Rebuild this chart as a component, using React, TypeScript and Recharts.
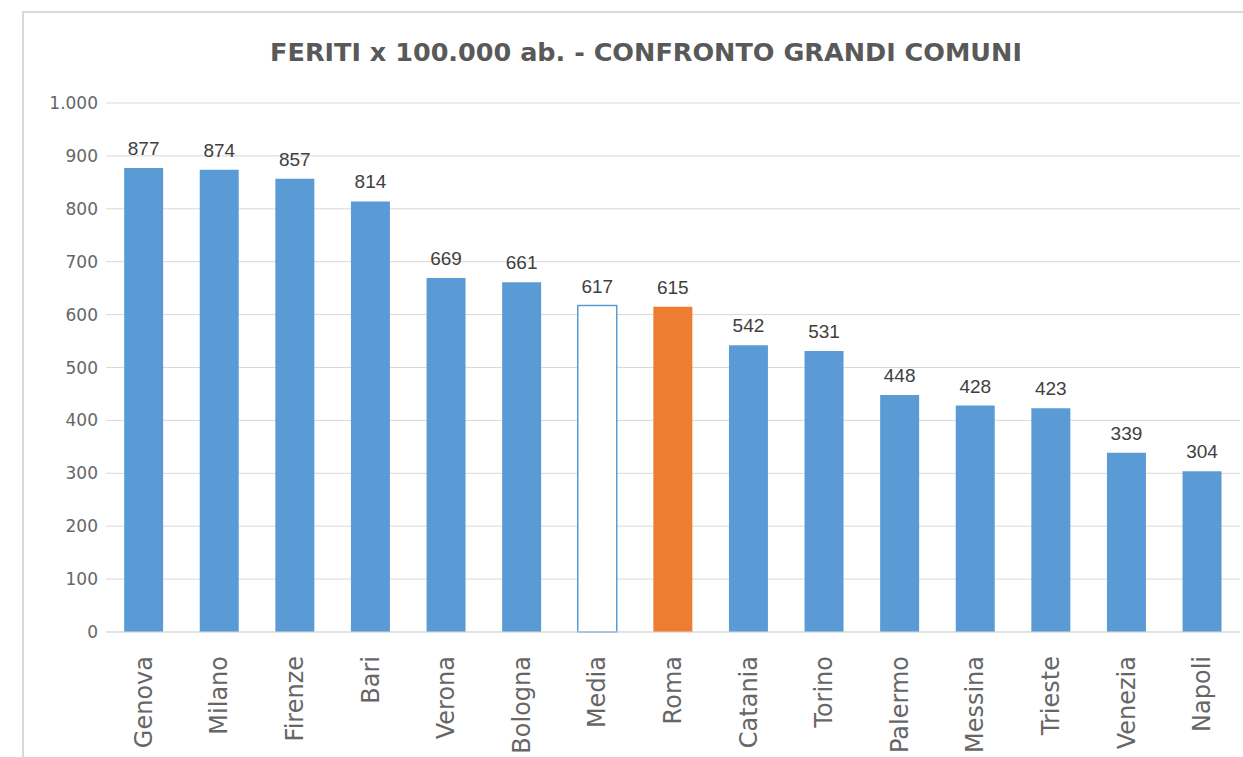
import React from 'react';
import { BarChart, Bar, XAxis, YAxis, CartesianGrid, Cell, LabelList } from 'recharts';

const CITIES = ['Genova', 'Milano', 'Firenze', 'Bari', 'Verona', 'Bologna', 'Media', 'Roma', 'Catania', 'Torino', 'Palermo', 'Messina', 'Trieste', 'Venezia', 'Napoli'];
const FERITI = [877, 874, 857, 814, 669, 661, 617, 615, 542, 531, 448, 428, 423, 339, 304];
const Y_TICKS = [0, 100, 200, 300, 400, 500, 600, 700, 800, 900, 1000];

const BLUE = '#5b9bd5';
const ORANGE = '#ed7d31';

const data = CITIES.map((name, i) => ({ name, value: FERITI[i] }));

// Italian thousands separator
const fmt = (v: number) => String(v).replace(/\B(?=(\d{3})+(?!\d))/g, '.');

const CityTick = (props: any) => {
  const { x, y, payload } = props;
  return (
    <text
      transform={`translate(${x},${y + 16}) rotate(-90)`}
      textAnchor="end"
      dominantBaseline="central"
      fontSize={24}
      fontFamily="DejaVu Sans"
      fill="#666666"
    >
      {payload.value}
    </text>
  );
};

const App: React.FC = () => {
  return (
    <div style={{ position: 'absolute', left: 0, top: 0, width: 1243, height: 757, background: '#fff', overflow: 'hidden' }}>
      <div style={{ position: 'absolute', left: 22, top: 11, width: 1240, height: 780, border: '2px solid #d9d9d9', boxSizing: 'border-box' }} />
      <div
        style={{
          position: 'absolute', left: 0, top: 37, width: 1292, textAlign: 'center',
          fontFamily: 'DejaVu Sans', fontWeight: 700, fontSize: 25.5, color: '#595959',
        }}
      >
        FERITI x 100.000 ab. - CONFRONTO GRANDI COMUNI
      </div>
      <div style={{ position: 'absolute', left: 0, top: 0 }}>
        <BarChart
          width={1243}
          height={757}
          data={data}
          margin={{ top: 103, right: 3, left: 26, bottom: 10 }}
          barCategoryGap="24%"
        >
          <CartesianGrid vertical={false} stroke="#d9d9d9" />
          <XAxis
            dataKey="name"
            interval={0}
            height={115}
            tick={<CityTick />}
            tickLine={false}
            axisLine={{ stroke: '#d9d9d9' }}
          />
          <YAxis
            domain={[0, 1000]}
            ticks={Y_TICKS}
            tickFormatter={fmt}
            width={80}
            axisLine={false}
            tickLine={false}
            tick={{ fontSize: 17, fontFamily: 'DejaVu Sans', fill: '#666666' }}
          />
          <Bar dataKey="value" isAnimationActive={false}>
            {data.map((d) => (
              <Cell
                key={d.name}
                fill={d.name === 'Media' ? '#ffffff' : d.name === 'Roma' ? ORANGE : BLUE}
                stroke={d.name === 'Media' ? BLUE : 'none'}
                strokeWidth={d.name === 'Media' ? 1.5 : 0}
              />
            ))}
            <LabelList
              dataKey="value"
              position="top"
              offset={13}
              style={{ fontSize: 19, fontFamily: 'Liberation Sans', fill: '#404040' }}
            />
          </Bar>
        </BarChart>
      </div>
    </div>
  );
};

export default App;
